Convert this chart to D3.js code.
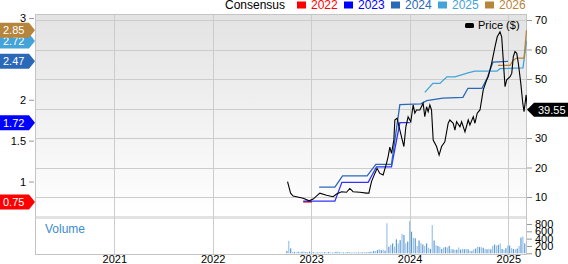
<!DOCTYPE html>
<html>
<head>
<meta charset="utf-8">
<script src="https://cdn.jsdelivr.net/npm/d3@7"></script>
<style>
  body { margin: 0; background: #fff; }
  svg { display: block; font-family: 'Liberation Sans', Arial, sans-serif; }
</style>
</head>
<body>
<svg width="568" height="264"></svg>
<script>
// price (decimal year, $)
const priceYears = [2022.760, 2022.791, 2022.817, 2022.919, 2022.980, 2023.020, 2023.088, 2023.156, 2023.223, 2023.258,
  2023.309, 2023.359, 2023.393, 2023.426, 2023.494, 2023.562, 2023.586, 2023.613, 2023.647, 2023.670,
  2023.697, 2023.731, 2023.766, 2023.782, 2023.799, 2023.816, 2023.840, 2023.850, 2023.873, 2023.901,
  2023.942, 2023.962, 2023.985, 2024.012, 2024.036, 2024.053, 2024.070, 2024.104, 2024.137, 2024.154,
  2024.172, 2024.188, 2024.205, 2024.222, 2024.239, 2024.273, 2024.299, 2024.324, 2024.357, 2024.391,
  2024.408, 2024.442, 2024.459, 2024.476, 2024.510, 2024.527, 2024.561, 2024.594, 2024.611, 2024.645,
  2024.662, 2024.685, 2024.713, 2024.730, 2024.746, 2024.781, 2024.797, 2024.831, 2024.865, 2024.888,
  2024.916, 2024.933, 2024.949, 2024.967, 2024.984, 2025.018, 2025.035, 2025.051, 2025.068, 2025.086,
  2025.102, 2025.127, 2025.147, 2025.160, 2025.181, 2025.196]
const priceVals = [15.2, 11.3, 10.3, 9.6, 8.7, 9.3, 11.3, 10.6, 10.1, 11.0,
  11.8, 11.6, 12.9, 11.8, 11.6, 11.3, 11.3, 15.2, 18.0, 19.7,
  18.0, 17.5, 21.5, 23.7, 26.9, 24.8, 29.3, 36.1, 36.7, 32.7,
  27.1, 33.8, 37.2, 35.5, 41.2, 38.4, 39.5, 39.5, 41.8, 37.2,
  40.6, 38.9, 41.2, 39.5, 29.3, 27.1, 24.2, 27.1, 28.7, 35.0,
  36.1, 35.0, 32.7, 35.5, 33.8, 35.5, 32.1, 36.1, 34.4, 37.2,
  35.0, 38.4, 39.5, 42.9, 46.3, 49.7, 50.8, 55.3, 60.9, 64.3,
  66.0, 64.3, 56.4, 47.4, 49.7, 50.8, 51.9, 57.6, 59.3, 58.7,
  55.3, 48.5, 41.8, 38.9, 44.6, 39.55]
const lastPrice = 39.55

// consensus EPS per fiscal year
const epsYears = ['2022', '2023', '2024', '2025', '2026']
const epsColors = ['#ff0000', '#0000ff', '#2a68b8', '#44a3d8', '#b7843c']
const eps2022T = [2022.919, 2023.007]
const eps2022V = [0.75, 0.75]
const eps2023T = [2022.919, 2023.241, 2023.312, 2023.579, 2023.664, 2023.816, 2023.901, 2024.002]
const eps2023V = [0.76, 0.76, 0.99, 0.99, 1.18, 1.18, 1.72, 1.72]
const eps2024T = [2023.081, 2023.241, 2023.319, 2023.569, 2023.657, 2023.816, 2023.901, 2024.114,
  2024.174, 2024.337, 2024.540, 2024.591, 2024.733, 2024.784, 2024.845, 2024.997]
const eps2024V = [0.93, 0.93, 1.07, 1.07, 1.21, 1.21, 1.94, 1.95, 1.99, 2.02, 2.03, 2.14, 2.14, 2.26, 2.46, 2.47]
const eps2025T = [2024.154, 2024.236, 2024.307, 2024.378, 2024.459, 2024.591, 2024.661, 2024.885, 2024.916, 2025.149, 2025.185]
const eps2025V = [2.09, 2.20, 2.20, 2.28, 2.28, 2.33, 2.35, 2.35, 2.38, 2.39, 2.72]
const eps2026T = [2024.895, 2025.018, 2025.048, 2025.085, 2025.160, 2025.185]
const eps2026V = [2.42, 2.42, 2.48, 2.51, 2.51, 2.85]
const epsLast = [0.75, 1.72, 2.47, 2.72, 2.85]

// weekly volume (thousands), first week starting 2022-10-03
const volStart = '2022-10-03'
const volVals = [65, 340, 135, 30, 40, 25, 45, 30, 40, 45,
  30, 35, 45, 25, 30, 20, 25, 30, 20, 25,
  30, 20, 35, 25, 20, 30, 40, 45, 25, 20,
  25, 20, 30, 35, 20, 25, 20, 30, 25, 20,
  25, 30, 25, 35, 40, 45, 65, 60, 90, 110,
  85, 100, 70, 820, 180, 230, 270, 180, 380, 270,
  360, 530, 500, 270, 320, 880, 590, 420, 410, 200,
  350, 280, 240, 200, 270, 150, 120, 770, 350, 220,
  200, 180, 120, 160, 170, 160, 200, 110, 110, 90,
  100, 160, 100, 120, 110, 120, 110, 70, 60, 110,
  130, 180, 170, 170, 150, 120, 110, 120, 110, 200,
  240, 210, 230, 270, 120, 100, 140, 210, 210, 140,
  120, 110, 130, 200, 430, 460, 270]

const yearTicks = [2021, 2022, 2023, 2024, 2025]
const priceTicks = [10, 20, 30, 40, 50, 60, 70]
const epsTicks = [1, 1.5, 2, 3]
const volTicks = [0, 200, 400, 600, 800]

const toDate = t => {
  const y = Math.floor(t)
  const a = Date.UTC(y, 0, 1), b = Date.UTC(y + 1, 0, 1)
  return new Date(a + (t - y) * (b - a))
}

const plotLeft = 35, plotRight = 527, plotTop = 14, priceBottom = 216, volTop = 219, plotBottom = 254

const svg = d3.select('svg')

const x = d3.scaleUtc()
  .domain([new Date(Date.UTC(2021, 0, 1)), new Date(Date.UTC(2025, 0, 1))])
  .range([114.3, 508.3])
const yPrice = d3.scaleLinear().domain([10, 70]).range([197, 20])
const yEps = d3.scaleLinear().domain([1, 3]).range([181.5, 18])
const yVol = d3.scaleLinear().domain([0, 800]).range([253.3, 224])

const defs = svg.append('defs')
const grad = defs.append('linearGradient')
  .attr('id', 'bg').attr('x1', 0).attr('y1', 0).attr('x2', 0).attr('y2', 1)
grad.append('stop').attr('offset', '0%').attr('stop-color', '#e3e3e3')
grad.append('stop').attr('offset', '100%').attr('stop-color', '#ffffff')
defs.append('clipPath').attr('id', 'clip')
  .append('rect').attr('x', plotLeft).attr('y', plotTop)
  .attr('width', plotRight - plotLeft).attr('height', priceBottom - plotTop)

// panels
svg.append('rect')
  .attr('x', plotLeft).attr('y', plotTop).attr('width', plotRight - plotLeft).attr('height', priceBottom - plotTop)
  .attr('fill', 'url(#bg)')
svg.append('rect')
  .attr('x', plotLeft).attr('y', priceBottom).attr('width', plotRight - plotLeft).attr('height', volTop - priceBottom)
  .attr('fill', '#e2e2e2')

// grid
svg.append('g')
  .selectAll('line')
  .data(priceTicks)
  .enter()
  .append('line')
  .attr('x1', plotLeft).attr('x2', plotRight)
  .attr('y1', d => Math.round(yPrice(d)) + 0.5).attr('y2', d => Math.round(yPrice(d)) + 0.5)
  .attr('stroke', '#cccccc')

svg.append('g')
  .selectAll('line')
  .data(yearTicks)
  .enter()
  .append('line')
  .attr('x1', d => Math.round(x(toDate(d))) + 0.5).attr('x2', d => Math.round(x(toDate(d))) + 0.5)
  .attr('y1', plotTop).attr('y2', plotBottom)
  .attr('stroke', '#cccccc')

// border
svg.append('rect')
  .attr('x', plotLeft + 0.5).attr('y', plotTop + 0.5)
  .attr('width', plotRight - plotLeft - 1).attr('height', plotBottom - plotTop)
  .attr('fill', 'none').attr('stroke', '#c4c4c4')

// volume bars
const v0 = new Date(volStart + 'T00:00:00Z')
svg.append('g')
  .selectAll('rect')
  .data(volVals)
  .enter()
  .append('rect')
  .attr('x', (d, i) => x(new Date(v0.getTime() + i * 7 * 864e5)) - 0.6)
  .attr('width', 1.2)
  .attr('y', d => yVol(d))
  .attr('height', d => yVol(0) - yVol(d))
  .attr('fill', (d, i) => i % 2 ? '#9cc3e6' : '#5d9bd3')

svg.append('text')
  .attr('x', 45).attr('y', 233)
  .attr('font-size', 12)
  .attr('fill', '#3d8bcf')
  .text('Volume')

// consensus lines
const epsT = [eps2022T, eps2023T, eps2024T, eps2025T, eps2026T]
const epsV = [eps2022V, eps2023V, eps2024V, eps2025V, eps2026V]
const epsLine = d3.line().x(d => x(toDate(d[0]))).y(d => yEps(d[1]))
const plot = svg.append('g').attr('clip-path', 'url(#clip)')

epsYears.forEach((yr, k) => {
  plot.append('path')
    .datum(epsT[k].map((t, i) => [t, epsV[k][i]]))
    .attr('d', epsLine)
    .attr('fill', 'none')
    .attr('stroke', epsColors[k])
    .attr('stroke-width', 1.3)
    .attr('opacity', k === 1 ? 0.8 : 1)
})

// price line
const priceLine = d3.line().x(d => x(toDate(d[0]))).y(d => yPrice(d[1]))
plot.append('path')
  .datum(priceYears.map((t, i) => [t, priceVals[i]]))
  .attr('d', priceLine)
  .attr('fill', 'none')
  .attr('stroke', '#000')
  .attr('stroke-width', 1.1)

// axes
const styleAxis = g => {
  g.select('.domain').remove()
  g.selectAll('.tick line').attr('stroke', '#999')
  g.selectAll('.tick text').attr('fill', '#000').attr('font-size', 11)
    .attr('font-family', "'Liberation Sans', Arial, sans-serif")
}

svg.append('g')
  .attr('transform', `translate(${plotRight},0)`)
  .call(d3.axisRight(yPrice).tickValues(priceTicks).tickSize(5).tickPadding(3))
  .call(styleAxis)

svg.append('g')
  .attr('transform', `translate(${plotLeft - 1},0)`)
  .call(d3.axisLeft(yEps).tickValues(epsTicks).tickSize(5).tickPadding(3).tickFormat(d3.format('')))
  .call(styleAxis)

svg.append('g')
  .attr('transform', `translate(${plotRight},0)`)
  .call(d3.axisRight(yVol).tickValues(volTicks).tickSize(5).tickPadding(3))
  .call(styleAxis)

svg.append('g')
  .attr('transform', `translate(0,${plotBottom})`)
  .call(d3.axisBottom(x).tickValues(yearTicks.map(toDate)).tickSize(0).tickPadding(1.5).tickFormat(d3.utcFormat('%Y')))
  .call(styleAxis)

// EPS value flags on the left
const flags = svg.append('g')
epsLast.forEach((v, k) => {
  const c = yEps(v)
  flags.append('path')
    .attr('d', `M0,${c - 7.5}L29,${c - 7.5}L35,${c}L29,${c + 7.5}L0,${c + 7.5}Z`)
    .attr('fill', epsColors[k])
  flags.append('text')
    .attr('x', 3).attr('y', c + 4)
    .attr('font-size', 11)
    .attr('fill', '#fff')
    .text(d3.format('.2f')(v))
})

// last price flag
const py = yPrice(lastPrice)
svg.append('path')
  .attr('d', `M${plotRight},${py}L${plotRight + 7},${py - 7}L568,${py - 7}L568,${py + 7}L${plotRight + 7},${py + 7}Z`)
  .attr('fill', '#000')
svg.append('text')
  .attr('x', 538).attr('y', py + 4)
  .attr('font-size', 11)
  .attr('fill', '#fff')
  .text(d3.format('.2f')(lastPrice))

// price legend
svg.append('rect')
  .attr('x', 465).attr('y', 23).attr('width', 9).attr('height', 5).attr('rx', 1.5)
  .attr('fill', '#000')
svg.append('text')
  .attr('x', 478).attr('y', 28.5)
  .attr('font-size', 11)
  .text('Price ($)')

// consensus legend
svg.append('text')
  .attr('x', 225).attr('y', 9)
  .attr('font-size', 12)
  .text('Consensus')

const legend = svg.append('g')
  .selectAll('g')
  .data(epsYears)
  .enter()
  .append('g')
  .attr('transform', (d, i) => `translate(${297 + i * 47},0)`)
legend.append('rect')
  .attr('y', 1.5).attr('width', 9).attr('height', 7)
  .attr('fill', (d, i) => epsColors[i])
legend.append('text')
  .attr('x', 14).attr('y', 9)
  .attr('font-size', 12)
  .attr('fill', (d, i) => epsColors[i])
  .text(d => d)
</script>
</body>
</html>
